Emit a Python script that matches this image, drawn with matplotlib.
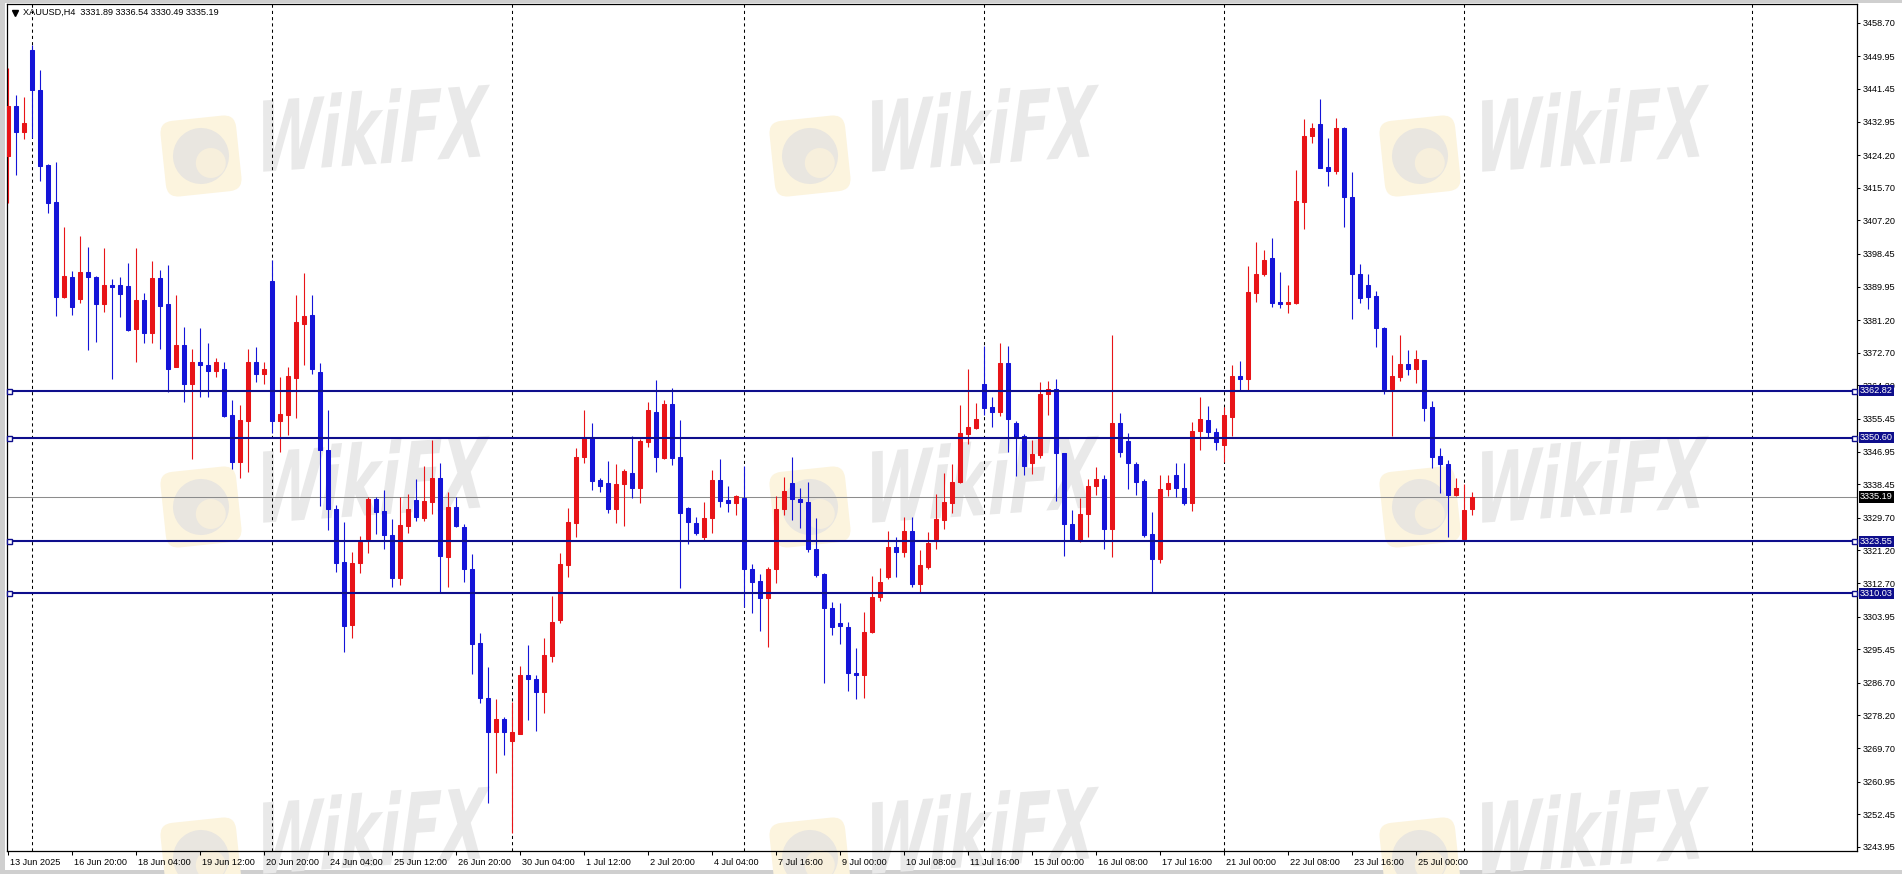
import numpy as np
import matplotlib
matplotlib.use("Agg")
import matplotlib.pyplot as plt
from matplotlib.patches import Rectangle, FancyBboxPatch, PathPatch, Circle
from matplotlib.textpath import TextPath
from matplotlib.font_manager import FontProperties
from matplotlib.transforms import Affine2D, ScaledTranslation, blended_transform_factory

plt.rcParams['font.family'] = ['Liberation Sans', 'DejaVu Sans']

# ---------------- data ----------------
symbol = "XAUUSD,H4"
last_ohlc = [3331.89, 3336.54, 3330.49, 3335.19]

opens = [3424.1, 3437.0, 3430.3, 3451.6, 3441.3, 3421.6, 3411.9, 3387.3, 3392.4, 3386.6,
         3393.7, 3392.4, 3385.3, 3390.4, 3390.4, 3390.1, 3378.8, 3386.4, 3377.9, 3392.1,
         3385.3, 3369.1, 3374.7, 3364.5, 3370.2, 3369.5, 3368.0, 3368.6, 3356.5, 3344.3,
         3355.0, 3370.2, 3367.1, 3391.4, 3355.0, 3356.5, 3366.2, 3380.2, 3382.5, 3367.6,
         3347.5, 3331.9, 3318.1, 3301.8, 3317.8, 3324.1, 3334.5, 3331.5, 3325.2, 3314.1,
         3327.6, 3334.3, 3329.6, 3333.9, 3340.2, 3319.4, 3332.4, 3327.2, 3316.3, 3297.0,
         3282.7, 3274.0, 3277.2, 3271.6, 3273.5, 3288.7, 3287.6, 3284.4, 3293.7, 3303.1,
         3317.4, 3328.4, 3345.5, 3350.8, 3339.5, 3338.9, 3331.9, 3338.5, 3341.5, 3337.4,
         3349.5, 3357.2, 3345.2, 3359.4, 3345.6, 3332.2, 3328.4, 3324.6, 3329.6, 3339.5,
         3334.3, 3333.6, 3334.9, 3316.3, 3313.2, 3308.7, 3316.3, 3331.9, 3338.9, 3334.5,
         3333.7, 3321.7, 3315.0, 3306.1, 3302.2, 3301.3, 3289.2, 3288.7, 3299.9, 3309.0,
         3314.2, 3322.0, 3320.7, 3326.3, 3312.4, 3316.9, 3324.2, 3329.1, 3333.6, 3339.1,
         3351.5, 3353.2, 3364.6, 3358.5, 3357.4, 3370.1, 3354.3, 3351.0, 3344.1, 3346.1,
         3361.9, 3363.2, 3346.5, 3328.0, 3323.7, 3330.6, 3338.0, 3339.7, 3326.7, 3354.5,
         3349.7, 3343.7, 3339.3, 3325.4, 3319.1, 3337.1, 3340.8, 3337.4, 3333.5, 3352.3,
         3355.2, 3352.0, 3348.8, 3356.1, 3366.6, 3366.0, 3388.4, 3393.1, 3397.3, 3386.0,
         3385.3, 3385.6, 3412.1, 3429.3, 3432.3, 3421.0, 3420.1, 3431.2, 3413.4, 3393.2,
         3390.3, 3387.5, 3379.2, 3363.3, 3366.5, 3369.9, 3368.4, 3370.8, 3358.5, 3345.8,
         3343.6, 3335.6, 3324.1, 3331.89]

highs = [3446.8, 3439.9, 3439.4, 3452.9, 3446.4, 3421.8, 3422.5, 3405.4, 3394.1, 3403.1,
         3400.2, 3392.6, 3399.9, 3391.8, 3392.4, 3396.0, 3399.9, 3388.2, 3396.7, 3394.4,
         3395.5, 3387.8, 3379.5, 3373.6, 3379.1, 3375.2, 3371.3, 3370.4, 3360.4, 3359.1,
         3373.7, 3374.3, 3370.4, 3396.9, 3366.3, 3368.9, 3387.8, 3393.4, 3387.8, 3370.0,
         3357.8, 3333.0, 3328.7, 3320.9, 3325.0, 3335.0, 3335.0, 3336.9, 3329.3, 3335.0,
         3335.9, 3339.7, 3343.2, 3350.1, 3343.9, 3336.3, 3335.0, 3328.1, 3320.3, 3299.6,
         3290.9, 3282.4, 3277.9, 3281.8, 3291.1, 3296.6, 3288.7, 3298.3, 3309.3, 3320.6,
         3332.2, 3347.8, 3357.8, 3354.3, 3340.2, 3344.6, 3343.6, 3342.3, 3351.0, 3350.2,
         3360.0, 3365.5, 3360.4, 3363.4, 3355.2, 3332.5, 3329.8, 3333.9, 3342.1, 3344.9,
         3338.0, 3335.6, 3343.2, 3317.7, 3315.1, 3317.0, 3335.4, 3340.4, 3345.5, 3337.6,
         3339.1, 3329.6, 3315.4, 3307.8, 3307.6, 3302.6, 3295.7, 3305.1, 3314.5, 3316.5,
         3326.3, 3324.8, 3330.0, 3330.0, 3321.3, 3325.9, 3335.9, 3341.3, 3343.7, 3359.1,
         3368.6, 3359.7, 3374.5, 3361.3, 3375.2, 3374.5, 3355.0, 3351.5, 3350.1, 3365.2,
         3365.4, 3366.0, 3346.6, 3331.7, 3334.8, 3339.7, 3342.9, 3340.8, 3377.3, 3357.1,
         3351.9, 3344.3, 3339.7, 3331.1, 3340.8, 3340.8, 3343.9, 3344.1, 3354.7, 3361.3,
         3358.8, 3353.0, 3358.7, 3369.5, 3370.6, 3395.4, 3401.5, 3399.6, 3402.5, 3393.7,
         3390.4, 3420.3, 3433.5, 3432.5, 3438.8, 3428.6, 3433.9, 3431.5, 3419.9, 3395.8,
         3393.2, 3388.8, 3379.3, 3372.1, 3377.3, 3373.4, 3373.4, 3370.9, 3360.2, 3347.8,
         3344.8, 3340.0, 3338.4, 3336.54]

lows = [3411.6, 3419.0, 3428.3, 3428.6, 3417.5, 3409.2, 3382.3, 3387.0, 3382.5, 3385.6,
        3373.3, 3375.6, 3383.4, 3366.0, 3382.1, 3378.4, 3370.4, 3375.3, 3375.3, 3373.6,
        3362.6, 3368.9, 3360.0, 3345.0, 3361.3, 3361.3, 3366.5, 3355.9, 3342.4, 3340.2,
        3341.7, 3365.0, 3364.5, 3351.7, 3346.8, 3351.3, 3355.6, 3369.5, 3367.1, 3332.8,
        3326.4, 3315.7, 3294.8, 3298.5, 3315.4, 3320.6, 3325.5, 3321.5, 3311.8, 3312.2,
        3325.8, 3328.9, 3328.9, 3330.7, 3310.0, 3311.8, 3327.4, 3313.1, 3289.0, 3281.5,
        3255.5, 3263.3, 3267.9, 3247.7, 3273.4, 3277.0, 3274.2, 3278.9, 3292.2, 3302.2,
        3314.2, 3324.8, 3344.1, 3337.0, 3336.5, 3330.9, 3328.4, 3327.6, 3334.8, 3333.6,
        3348.2, 3341.7, 3344.9, 3343.5, 3311.3, 3322.9, 3325.2, 3323.7, 3325.8, 3332.6,
        3331.3, 3330.4, 3306.4, 3305.0, 3300.3, 3296.1, 3312.8, 3330.4, 3329.1, 3327.1,
        3320.9, 3314.3, 3286.7, 3299.2, 3296.8, 3284.7, 3282.4, 3282.8, 3299.6, 3307.9,
        3313.7, 3314.4, 3319.6, 3311.8, 3310.0, 3316.3, 3321.5, 3326.9, 3330.9, 3338.9,
        3348.9, 3352.8, 3356.5, 3353.4, 3356.2, 3346.9, 3340.7, 3340.9, 3341.0, 3345.2,
        3356.5, 3334.2, 3319.8, 3323.7, 3323.5, 3324.8, 3335.6, 3321.7, 3319.4, 3345.6,
        3337.1, 3335.6, 3324.6, 3310.0, 3317.8, 3335.4, 3335.1, 3333.0, 3331.6, 3347.5,
        3350.7, 3347.5, 3344.2, 3351.0, 3363.0, 3362.8, 3386.0, 3392.7, 3384.7, 3384.4,
        3383.0, 3385.4, 3404.9, 3427.4, 3420.8, 3416.2, 3419.3, 3405.4, 3381.4, 3385.8,
        3384.0, 3374.3, 3362.0, 3351.1, 3365.4, 3366.9, 3364.9, 3355.0, 3342.8, 3336.1,
        3324.8, 3335.4, 3323.7, 3330.49]

closes = [3437.0, 3430.1, 3432.5, 3441.2, 3421.5, 3411.8, 3387.3, 3392.7, 3384.7, 3393.7,
          3392.4, 3385.3, 3390.4, 3389.9, 3387.9, 3378.6, 3386.4, 3377.9, 3392.1, 3385.0,
          3368.6, 3374.7, 3364.5, 3370.2, 3369.5, 3368.0, 3370.4, 3356.2, 3344.3, 3355.2,
          3370.2, 3367.1, 3368.5, 3355.0, 3356.8, 3366.7, 3380.8, 3382.3, 3368.4, 3347.5,
          3331.9, 3318.0, 3301.6, 3317.8, 3323.3, 3334.5, 3331.3, 3325.1, 3314.1, 3327.8,
          3332.0, 3330.0, 3334.2, 3340.2, 3319.8, 3332.4, 3327.6, 3316.3, 3296.9, 3282.7,
          3274.0, 3277.2, 3273.8, 3274.0, 3288.7, 3287.6, 3284.4, 3293.9, 3302.5, 3317.7,
          3328.5, 3345.5, 3350.8, 3339.4, 3338.1, 3331.9, 3338.5, 3341.9, 3337.4, 3349.7,
          3357.8, 3345.6, 3359.4, 3345.4, 3330.9, 3328.7, 3325.8, 3329.6, 3339.5, 3334.2,
          3333.6, 3335.4, 3316.3, 3313.1, 3308.7, 3316.3, 3331.9, 3336.7, 3334.5, 3333.7,
          3321.7, 3314.8, 3306.1, 3301.3, 3301.6, 3289.2, 3288.7, 3299.9, 3309.0, 3313.0,
          3322.0, 3320.7, 3326.3, 3312.4, 3317.4, 3323.2, 3329.4, 3333.9, 3339.1, 3351.7,
          3353.3, 3355.4, 3358.4, 3357.4, 3370.1, 3355.4, 3350.7, 3343.3, 3346.3, 3361.9,
          3363.2, 3346.5, 3328.0, 3324.1, 3330.6, 3338.0, 3339.7, 3326.7, 3354.5, 3346.9,
          3343.9, 3339.1, 3325.2, 3319.1, 3337.1, 3338.8, 3337.5, 3333.5, 3352.3, 3355.4,
          3352.0, 3349.4, 3356.5, 3366.6, 3366.0, 3388.5, 3393.2, 3396.9, 3385.8, 3385.3,
          3386.0, 3412.2, 3429.2, 3431.2, 3420.9, 3420.1, 3431.2, 3413.4, 3393.1, 3387.1,
          3387.3, 3379.1, 3363.3, 3366.6, 3369.9, 3368.4, 3371.0, 3358.4, 3345.6, 3343.6,
          3335.6, 3337.6, 3331.7, 3335.19]

time_label_bars = [0, 8, 16, 24, 32, 40, 48, 56, 64, 72, 80, 88, 96, 104, 112, 120,
                   128, 136, 144, 152, 160, 168, 176]
time_labels = ["13 Jun 2025", "16 Jun 20:00", "18 Jun 04:00", "19 Jun 12:00",
               "20 Jun 20:00", "24 Jun 04:00", "25 Jun 12:00", "26 Jun 20:00",
               "30 Jun 04:00", "1 Jul 12:00", "2 Jul 20:00", "4 Jul 04:00",
               "7 Jul 16:00", "9 Jul 00:00", "10 Jul 08:00", "11 Jul 16:00",
               "15 Jul 00:00", "16 Jul 08:00", "17 Jul 16:00", "21 Jul 00:00",
               "22 Jul 08:00", "23 Jul 16:00", "25 Jul 00:00"]
week_grid_bars = [3, 33, 63, 92, 122, 152, 182, 218]

price_ticks = [3458.70, 3449.95, 3441.45, 3432.95, 3424.20, 3415.70, 3407.20, 3398.45,
               3389.95, 3381.20, 3372.70, 3364.20, 3355.45, 3346.95, 3338.45, 3329.70,
               3321.20, 3312.70, 3303.95, 3295.45, 3286.70, 3278.20, 3269.70, 3260.95,
               3252.45, 3243.95]
level_lines = [3362.82, 3350.60, 3323.55, 3310.03]
current_price = 3335.19

# ---------------- style ----------------
W, H, DPI = 1902, 874, 100
RED = '#E81418'
BLUE = '#1414D8'
NAVY = '#0E0E8C'
FS = 6.6

fig = plt.figure(figsize=(W / DPI, H / DPI), dpi=DPI, facecolor='white')

# background layer (pixel coords, y down) for window frame and watermark
bg = fig.add_axes([0, 0, 1, 1], zorder=0)
bg.set_xlim(0, W)
bg.set_ylim(H, 0)
bg.axis('off')

frame_col = '#cfcfcf'
bg.add_patch(Rectangle((0, 0), W, 3.2, fc=frame_col, ec='none'))
bg.add_patch(Rectangle((0, 0), 5.0, H, fc=frame_col, ec='none'))
bg.add_patch(Rectangle((0, 869.5), W, 5, fc=frame_col, ec='none'))

# watermark
fp = FontProperties(family='DejaVu Sans', weight='bold')
tp = TextPath((0, 0), "WikiFX", size=100, prop=fp)
tb = tp.get_extents()


def watermark(cx, cy):
    rot = Affine2D().rotate_deg_around(cx, cy, -6) + bg.transData
    bg.add_patch(FancyBboxPatch((cx - 38, cy - 38), 76, 76,
                                boxstyle="round,pad=0,rounding_size=13",
                                fc='#fcf4de', ec='none', transform=rot, zorder=1))
    bg.add_patch(Circle((cx, cy), 28, fc='#e9e6e0', ec='none', transform=rot, zorder=2))
    bg.add_patch(Circle((cx + 9, cy + 8), 15, fc='#f7efdc', ec='none', transform=rot, zorder=3))
    tx, ty = cx + 171, cy - 29
    tr = (Affine2D()
          .translate(-(tb.x0 + tb.width / 2), -(tb.y0 + tb.height / 2))
          .scale(228 / tb.width, -74 / tb.height)
          .skew_deg(-12, 0)
          .rotate_deg(-4)
          .translate(tx, ty))
    bg.add_patch(PathPatch(tr.transform_path(tp), fc='#e9e9e9', ec='none', zorder=2))


for cy in (156, 507, 858):
    for cx in (201, 810, 1420):
        watermark(cx, cy)

# title
bg.plot([14.5], [12.8], marker='v', ms=4.2, color='black', ls='none')
bg.text(22.7, 12.8, f"{symbol}  " + " ".join(f"{v:.2f}" for v in last_ohlc),
        fontsize=FS, va='center', ha='left', color='black')

# main chart axes
ax = fig.add_axes([7 / W, (H - 851) / H, 1850 / W, 847 / H], zorder=1)
ax.patch.set_alpha(0)
px_per_bar = 8.0
x0 = (7 - 8.3) / px_per_bar
ax.set_xlim(x0, x0 + 1850 / px_per_bar)
ax.set_ylim(3242.89, 3463.58)
for sp in ax.spines.values():
    sp.set_linewidth(0.9)
    sp.set_color('black')

o = np.array(opens); h = np.array(highs); l = np.array(lows); c = np.array(closes)
x = np.arange(len(o))
col = np.where(c >= o, RED, BLUE)

# weekly grid
for g in week_grid_bars:
    ax.axvline(g, color='black', lw=0.75, ls=(0, (3, 3)), zorder=1)

# current price line
ax.axhline(current_price, color='#8c8c8c', lw=0.75, zorder=1.5)

ax.vlines(x, l, h, colors=col, lw=0.8, zorder=3)
ax.bar(x, np.abs(c - o), bottom=np.minimum(o, c), width=0.52, color=col,
       edgecolor=col, linewidth=0.75, zorder=4)

btr = blended_transform_factory(ax.transAxes, ax.transData)
for lv in level_lines:
    ax.axhline(lv, color=NAVY, lw=1.5, zorder=5)
    ax.plot([0.0012, 0.9984], [lv, lv], transform=btr, ls='none', marker='s', ms=3.6,
            mfc='white', mec=NAVY, mew=1.0, zorder=6, clip_on=False)
    ax.text(1.0017, lv, f"{lv:.2f}", transform=btr, color='white', fontsize=FS,
            va='center', ha='left', zorder=20, clip_on=False,
            bbox=dict(boxstyle='square,pad=0.14', fc=NAVY, ec=NAVY, lw=0))

ax.text(1.0017, current_price, f"{current_price:.2f}", transform=btr, color='white',
        fontsize=FS, va='center', ha='left', zorder=20, clip_on=False,
        bbox=dict(boxstyle='square,pad=0.14', fc='black', ec='black', lw=0))

# axes ticks
ax.yaxis.tick_right()
ax.set_yticks(price_ticks)
ax.set_yticklabels([f"{v:.2f}" for v in price_ticks])
ax.tick_params(axis='y', length=2.5, width=0.75, pad=1.6, labelsize=FS, direction='out')

ax.set_xticks(time_label_bars)
ax.set_xticklabels(time_labels, ha='left')
ax.tick_params(axis='x', length=3.0, width=0.75, pad=1.8, labelsize=FS, direction='out')
off = ScaledTranslation(2 / DPI, 0, fig.dpi_scale_trans)
for lab in ax.get_xticklabels():
    lab.set_transform(lab.get_transform() + off)

fig.savefig("out.png", dpi=DPI, facecolor='white')
